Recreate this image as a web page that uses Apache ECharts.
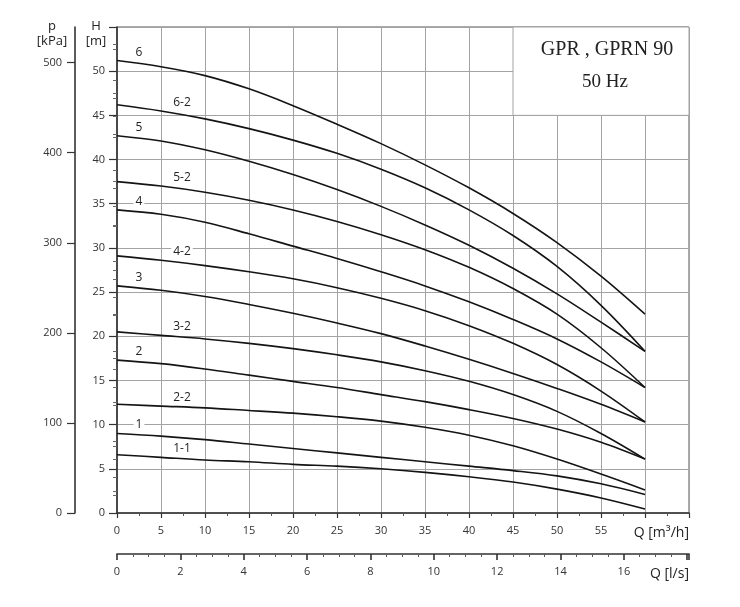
<!DOCTYPE html>
<html>
<head>
<meta charset="utf-8">
<script src="https://cdn.jsdelivr.net/npm/echarts@6/dist/echarts.min.js"></script>
<style>html,body{margin:0;padding:0;background:#fff}#c{width:740px;height:607px}</style>
</head>
<body>
<div id="c"></div>
<script>
// Flow Q [m3/h]
const Q = [0, 5, 10, 15, 20, 25, 30, 35, 40, 45, 50, 55, 60];
// Head H [m] for each curve
const H6   = [51.2, 50.5, 49.5, 48.0, 46.1, 44.0, 41.8, 39.4, 36.8, 33.9, 30.6, 26.8, 22.5];
const H6_2 = [46.2, 45.5, 44.6, 43.5, 42.2, 40.7, 38.9, 36.8, 34.3, 31.4, 27.9, 23.5, 18.3];
const H5   = [42.7, 42.1, 41.1, 39.8, 38.3, 36.6, 34.7, 32.6, 30.3, 27.7, 24.8, 21.6, 18.3];
const H5_2 = [37.5, 37.0, 36.3, 35.4, 34.3, 33.0, 31.5, 29.8, 27.8, 25.4, 22.5, 18.7, 14.2];
const H4   = [34.3, 33.8, 32.9, 31.6, 30.2, 28.8, 27.3, 25.7, 23.9, 21.9, 19.7, 17.1, 14.2];
const H4_2 = [29.1, 28.6, 28.0, 27.3, 26.5, 25.5, 24.3, 22.9, 21.2, 19.2, 16.8, 13.8, 10.3];
const H3   = [25.7, 25.2, 24.5, 23.6, 22.6, 21.5, 20.3, 18.9, 17.4, 15.8, 14.1, 12.3, 10.3];
const H3_2 = [20.5, 20.1, 19.7, 19.2, 18.6, 17.9, 17.1, 16.1, 14.9, 13.4, 11.5, 9.0, 6.1];
const H2   = [17.3, 16.9, 16.3, 15.6, 14.9, 14.2, 13.4, 12.6, 11.7, 10.7, 9.5, 8.0, 6.1];
const H2_2 = [12.3, 12.1, 11.9, 11.6, 11.3, 10.9, 10.4, 9.7, 8.8, 7.6, 6.1, 4.4, 2.6];
const H1   = [9.0, 8.7, 8.3, 7.8, 7.3, 6.8, 6.3, 5.8, 5.3, 4.8, 4.2, 3.3, 2.1];
const H1_1 = [6.6, 6.3, 6.0, 5.8, 5.5, 5.3, 5.0, 4.6, 4.1, 3.5, 2.7, 1.7, 0.45];

const curveNames = ['6', '6-2', '5', '5-2', '4', '4-2', '3', '3-2', '2', '2-2', '1', '1-1'];
const curveValues = [H6, H6_2, H5, H5_2, H4, H4_2, H3, H3_2, H2, H2_2, H1, H1_1];

// Tick labels
const pMajor = [0, 100, 200, 300, 400, 500];
const pMinor = [20, 40, 60, 80, 120, 140, 160, 180, 220, 240, 260, 280, 320, 340, 360, 380, 420, 440, 460, 480, 520];

const H_MAX = 55, Q_MAX = 65;
const KPA_PER_M = 9.81;
const M3H_PER_LS = 3.6;

const FONT = 'Open Sans';
const AX = '#333';
const GRIDC = '#a3a3a3';

const chart = echarts.init(document.getElementById('c'), null, {renderer: 'canvas'});

const series = curveNames.map((name, k) => {
  const labelAt = name.length > 1 ? 1 : 0;
  const vals = curveValues[k];
  const s = {
    type: 'line', name: name, xAxisIndex: 0, yAxisIndex: 0,
    smooth: 0.35,
    showSymbol: true, symbol: 'circle', symbolSize: 1,
    itemStyle: {color: 'rgba(0,0,0,0)', borderWidth: 0},
    lineStyle: {color: '#141414', width: 1.6},
    silent: true, animation: false, emphasis: {disabled: true},
    data: Q.map((q, i) => i === labelAt ? {
      value: [q, vals[i]],
      label: {show: true, formatter: name, position: 'top', distance: 2,
        offset: [labelAt === 0 ? 22 : 21, 0], color: '#222', fontFamily: FONT, fontSize: 12,
        backgroundColor: '#fff', padding: [0, 2]}
    } : [q, vals[i]])
  };
  if (k === 0) {
    s.markArea = {
      silent: true,
      itemStyle: {color: '#fff', borderColor: GRIDC, borderWidth: 1},
      data: [[{coord: [45, 45]}, {coord: [Q_MAX, H_MAX]}]]
    };
  }
  return s;
});

const labelStyle = {color: AX, fontFamily: FONT, fontSize: 11};

chart.setOption({
  animation: false,
  backgroundColor: '#fff',
  grid: {left: 117, right: 51, top: 27, bottom: 94, show: true, borderColor: '#555', borderWidth: 1, containLabel: false},
  xAxis: [
    {
      type: 'value', min: 0, max: Q_MAX, interval: 5, position: 'bottom',
      axisLine: {show: true, onZero: false, lineStyle: {color: AX, width: 1.6}},
      axisTick: {show: true, length: 5, lineStyle: {color: AX, width: 1.2}},
      minorTick: {show: true, splitNumber: 2, length: 3, lineStyle: {color: '#555'}},
      splitLine: {show: true, lineStyle: {color: GRIDC, width: 1}},
      minorSplitLine: {show: false},
      axisLabel: Object.assign({margin: 12, formatter: v => v <= 55 ? String(v) : ''}, labelStyle),
      name: 'Q [m³/h]', nameLocation: 'end', nameGap: 0,
      nameTextStyle: {align: 'right', verticalAlign: 'top', padding: [13, 0, 0, 0], fontSize: 14, color: '#222', fontFamily: FONT}
    },
    {
      type: 'value', min: 0, max: Q_MAX / M3H_PER_LS, interval: 2, position: 'bottom', offset: 41,
      axisLine: {show: true, onZero: false, lineStyle: {color: AX, width: 1.6}},
      axisTick: {show: true, length: 6, lineStyle: {color: AX, width: 1.6}},
      minorTick: {show: true, splitNumber: 4, length: 3, lineStyle: {color: '#555'}},
      splitLine: {show: false},
      axisLabel: Object.assign({margin: 12, formatter: v => (v <= 16 && v % 2 === 0) ? String(v) : ''}, labelStyle),
      name: 'Q [l/s]', nameLocation: 'end', nameGap: 0,
      nameTextStyle: {align: 'right', verticalAlign: 'top', padding: [13, 0, 0, 0], fontSize: 14, color: '#222', fontFamily: FONT}
    }
  ],
  yAxis: [
    {
      type: 'value', min: 0, max: H_MAX, interval: 5, position: 'left',
      axisLine: {show: true, onZero: false, lineStyle: {color: AX, width: 1.6}},
      axisTick: {show: true, length: 8, lineStyle: {color: AX, width: 1.2}},
      minorTick: {show: true, splitNumber: 2, length: 4, lineStyle: {color: '#666'}},
      splitLine: {show: true, lineStyle: {color: GRIDC, width: 1}},
      axisLabel: Object.assign({margin: 12, formatter: v => v <= 50 ? String(v) : ''}, labelStyle)
    },
    {
      type: 'value', min: 0, max: H_MAX * KPA_PER_M, position: 'left', offset: 42,
      axisLine: {show: true, onZero: false, lineStyle: {color: AX, width: 1.6}},
      axisTick: {show: true, length: 8, customValues: pMajor, lineStyle: {color: AX, width: 1.2}},
      splitLine: {show: false},
      axisLabel: Object.assign({margin: 13, customValues: pMajor}, labelStyle)
    },
    {
      type: 'value', min: 0, max: H_MAX * KPA_PER_M, position: 'left', offset: 42,
      axisLine: {show: false},
      axisTick: {show: true, length: 4, customValues: pMinor, lineStyle: {color: '#666', width: 1}},
      splitLine: {show: false},
      axisLabel: {show: false}
    }
  ],
  graphic: [
    {type: 'text', style: {text: 'H\n[m]', x: 96, y: 19, textAlign: 'center', fill: '#222', font: '13px "Open Sans"', lineHeight: 15}},
    {type: 'text', style: {text: 'p\n[kPa]', x: 52, y: 19, textAlign: 'center', fill: '#222', font: '13px "Open Sans"', lineHeight: 15}},
    {type: 'text', z: 100, style: {text: 'GPR , GPRN 90', x: 607, y: 50, textAlign: 'center', textVerticalAlign: 'middle', fill: '#222', font: '20px "Liberation Serif"'}},
    {type: 'text', z: 100, style: {text: '50 Hz', x: 605, y: 82, textAlign: 'center', textVerticalAlign: 'middle', fill: '#222', font: '19px "Liberation Serif"'}}
  ],
  series: series
});
</script>
</body>
</html>
